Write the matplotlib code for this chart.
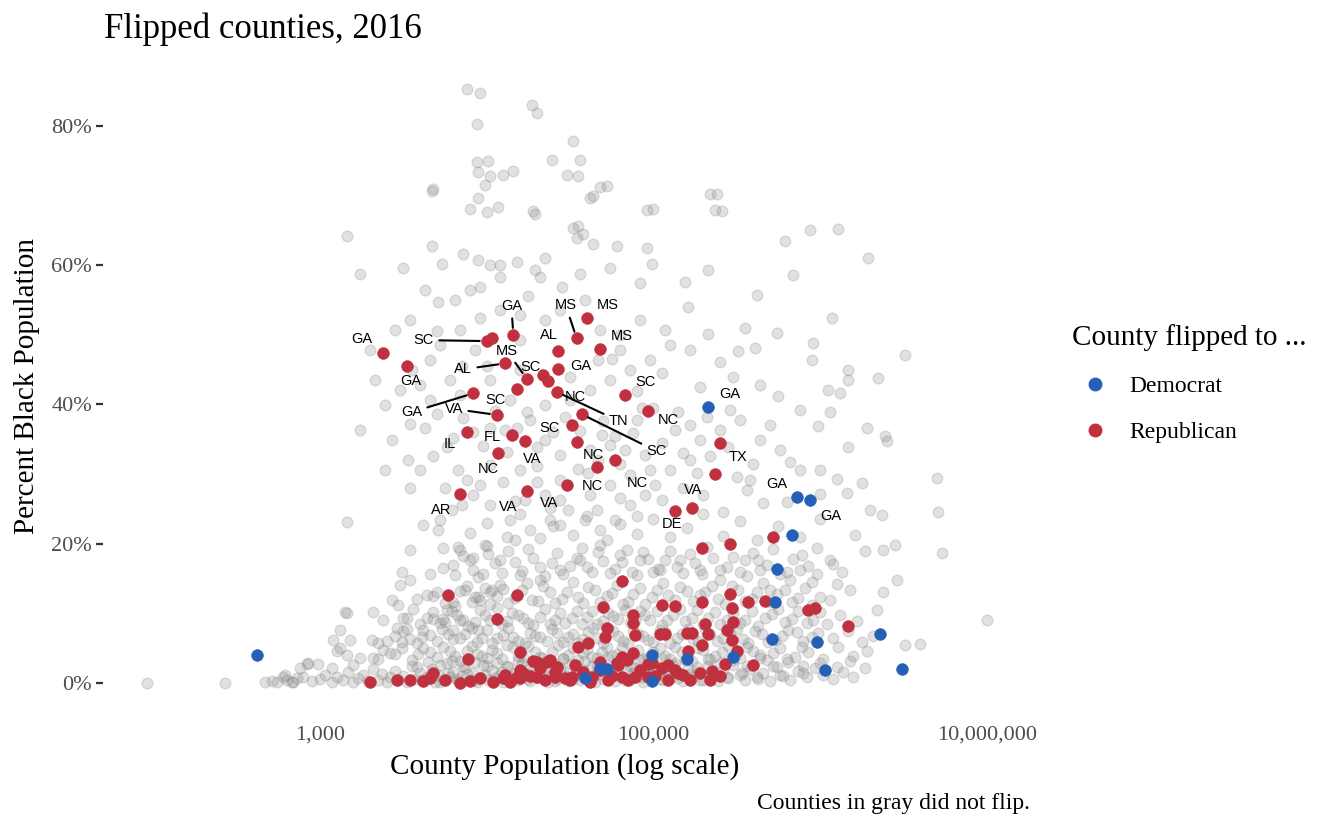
import matplotlib
matplotlib.use("Agg")
import matplotlib.pyplot as plt
from matplotlib.lines import Line2D
import numpy as np

# county points: (log10 population, percent black)
gray_counties = [
    # high share counties
    (3.88, 85.3), (3.96, 84.7), (4.27, 83.0), (4.30, 81.9), (3.94, 80.3), (4.52, 77.8),
    (4.39, 75.1), (4.56, 75.1), (3.94, 74.8), (4.01, 75.0), (3.95, 73.4), (4.02, 72.8),
    (4.10, 73.0), (4.16, 73.5), (3.99, 71.5), (4.48, 72.9), (4.55, 72.8), (4.72, 71.4),
    (4.64, 69.9), (3.68, 70.9), (3.95, 69.7), (3.90, 68.0), (4.00, 67.6), (4.07, 68.3),
    (4.28, 67.8), (5.00, 68.1), (5.34, 70.2), (5.37, 67.9), (5.94, 65.0), (4.55, 65.7),
    (4.58, 64.5), (6.11, 65.2), (5.79, 63.5), (5.38, 70.2), (5.41, 67.8), (4.96, 67.9),
    (4.68, 71.2), (4.62, 69.6), (3.67, 70.6), (4.29, 67.3),
    (3.16, 64.2), (3.24, 58.7), (3.50, 59.6), (3.67, 62.7), (3.73, 60.2), (3.86, 61.6),
    (3.95, 60.7), (4.02, 60.0), (4.08, 60.0), (4.18, 60.5), (4.35, 61.0), (4.29, 59.3),
    (4.32, 58.3), (3.96, 56.9), (4.08, 58.3), (4.52, 65.3), (4.54, 63.9), (4.64, 63.0),
    (4.78, 62.8), (4.96, 62.5), (4.99, 60.2), (4.74, 59.6), (4.56, 58.7), (4.45, 56.9),
    (4.25, 55.6), (3.90, 56.4), (3.71, 54.7), (4.92, 57.4), (5.19, 57.6), (5.33, 59.3),
    (5.62, 55.7), (5.84, 58.6), (6.29, 61.0), (3.63, 56.4), (3.81, 55.0),
    # 40-55 %
    (3.54, 52.1), (3.72, 48.5), (3.84, 50.7), (3.96, 52.4), (4.08, 53.6), (4.20, 52.8),
    (4.35, 52.1), (4.44, 53.6), (4.59, 55.0), (4.68, 50.7), (4.80, 50.0), (4.92, 52.1),
    (5.07, 50.7), (5.22, 47.8), (5.10, 48.5), (4.98, 46.4), (5.21, 54.0), (5.33, 50.1),
    (5.55, 51.0), (5.51, 47.7), (5.61, 48.1), (5.74, 50.3), (5.96, 48.8), (6.07, 52.4),
    (5.40, 46.1), (5.64, 42.8), (5.75, 41.2), (5.88, 39.2), (6.05, 42.1), (6.12, 41.6),
    (6.17, 43.5), (6.17, 44.9), (5.95, 46.4), (6.51, 47.1), (6.35, 43.8), (5.99, 36.9),
    (6.06, 38.9), (6.28, 36.6), (6.40, 34.7), (6.39, 35.5), (6.17, 33.9), (3.66, 46.4),
    (3.78, 43.5), (3.60, 42.8), (3.48, 42.1), (3.33, 43.5), (3.39, 39.9), (3.66, 40.6),
    (3.84, 41.4), (4.26, 37.8), (4.35, 39.9), (4.50, 40.6), (4.62, 42.1), (4.74, 43.5),
    (4.86, 44.9), (4.80, 47.8), (4.67, 46.4), (4.20, 49.3), (3.93, 47.8), (4.02, 43.5),
    (4.14, 40.6), (3.45, 50.7), (3.30, 47.8),
    (4.20, 45.0), (4.50, 44.0), (4.00, 45.5), (4.75, 46.5), (4.90, 42.0), (5.05, 44.5),
    (5.28, 42.5), (5.48, 44.0), (3.55, 45.0), (3.70, 50.5), (3.85, 45.5),
    # 25-40 %
    (3.24, 36.3), (3.43, 34.9), (3.54, 37.2), (3.63, 36.6), (3.76, 33.9), (3.92, 36.0),
    (4.02, 36.6), (4.11, 36.3), (4.18, 36.6), (3.53, 32.0), (3.68, 32.6), (3.83, 30.6),
    (3.88, 29.2), (3.96, 28.4), (3.92, 27.0), (4.02, 25.6), (3.39, 30.6), (3.54, 28.0),
    (3.60, 30.6), (4.02, 31.3), (4.20, 30.6), (4.30, 31.2), (4.44, 29.2), (4.35, 34.9),
    (4.44, 32.7), (4.62, 33.5), (4.74, 34.2), (4.83, 33.5), (4.95, 32.7), (4.67, 32.0),
    (4.69, 35.6), (4.77, 35.5), (4.90, 37.8), (5.00, 39.5), (5.13, 36.3), (5.22, 37.0),
    (5.28, 34.9), (5.32, 38.2), (5.40, 36.3), (5.46, 39.2), (5.52, 37.8), (5.64, 34.9),
    (5.76, 33.5), (5.82, 31.7), (5.88, 30.6), (6.00, 30.6), (5.10, 30.6), (5.22, 32.0),
    (4.98, 30.6), (4.86, 29.9), (4.74, 28.4), (5.01, 28.4), (5.50, 29.6), (5.58, 29.2),
    (5.56, 27.7), (6.10, 29.3), (6.25, 28.7), (6.16, 27.3), (6.30, 24.8), (6.37, 24.1),
    (6.70, 29.4), (6.71, 24.6), (3.79, 24.8), (3.72, 23.4), (4.23, 26.3), (4.35, 27.0),
    (4.44, 26.3), (4.62, 27.0), (4.95, 27.0), (4.49, 24.8), (4.68, 22.0),
    (3.70, 38.6), (3.80, 35.2), (3.86, 38.0), (3.98, 34.0), (4.05, 39.0), (4.12, 33.2),
    (4.24, 38.9), (4.30, 33.9), (4.40, 36.0), (4.47, 38.2), (4.56, 36.2), (4.61, 30.2),
    (4.70, 37.6), (4.80, 31.5), (4.88, 35.9), (4.93, 39.5), (5.05, 34.4), (5.15, 38.9),
    (5.18, 33.0), (5.26, 30.1), (5.34, 32.6), (5.45, 33.9), (5.60, 31.5), (5.70, 37.0),
    (3.75, 28.0), (3.85, 25.5), (4.10, 28.8), (4.17, 26.1), (4.30, 28.9), (4.38, 25.2),
    (4.55, 30.8), (4.80, 26.5), (4.90, 24.0), (5.05, 26.3), (5.18, 28.0), (5.30, 27.0),
    (5.42, 24.6), (5.66, 25.8), (5.80, 26.0), (6.00, 27.1), (4.66, 24.9),
    # 10-25 %
    (3.16, 23.1), (3.71, 22.0), (3.83, 19.5), (3.74, 19.4), (3.66, 15.7), (3.54, 14.8),
    (3.48, 14.1), (3.43, 11.9), (3.32, 10.2), (3.15, 10.2), (3.49, 15.9), (3.54, 19.1),
    (3.62, 22.7), (3.99, 19.8), (3.90, 17.7), (3.81, 15.5), (4.08, 17.7), (4.17, 20.5),
    (4.26, 22.0), (4.38, 23.4), (4.59, 23.4), (4.77, 23.4), (4.86, 25.6), (4.14, 23.4),
    (4.44, 22.7), (4.68, 19.8), (4.80, 18.4), (4.92, 17.7), (5.04, 16.2), (5.16, 17.7),
    (5.28, 16.2), (5.40, 14.8), (5.55, 17.7), (5.64, 16.2), (5.70, 13.4), (5.82, 14.8),
    (5.88, 16.2), (5.95, 14.5), (5.98, 19.4), (6.06, 17.7), (6.13, 15.9), (6.18, 13.4),
    (6.06, 11.9), (6.21, 21.3), (6.27, 19.0), (6.38, 19.1), (6.45, 19.8), (6.73, 18.7),
    (6.46, 14.8), (6.38, 13.1), (6.34, 10.5), (6.32, 6.7), (6.28, 4.6), (6.51, 5.5),
    (6.60, 5.6), (7.00, 9.0), (3.84, 9.0), (3.76, 10.5), (3.68, 12.5), (3.95, 7.6),
    (4.03, 13.4), (3.87, 13.4), (3.96, 11.9), (4.08, 14.1), (4.20, 15.5), (4.32, 14.8),
    (4.44, 16.2), (4.56, 17.7),
    (3.90, 21.5), (4.00, 23.0), (4.12, 21.0), (4.20, 24.2), (4.32, 20.8), (4.40, 22.5),
    (4.52, 21.2), (4.60, 24.0), (4.72, 20.6), (4.80, 22.9), (4.90, 21.4), (5.00, 23.6),
    (5.10, 20.9), (5.20, 22.2), (5.30, 24.3), (5.42, 21.1), (5.52, 23.2), (5.62, 20.5),
    (5.75, 22.6), (5.88, 21.0), (6.00, 23.5),
    (3.74, 16.5), (3.86, 18.3), (3.98, 15.6), (4.05, 17.2), (4.13, 19.0), (4.21, 16.1),
    (4.28, 17.9), (4.35, 15.4), (4.42, 18.6), (4.50, 16.8), (4.57, 19.4), (4.63, 15.9),
    (4.70, 17.5), (4.77, 16.3), (4.84, 19.1), (4.90, 15.5), (4.97, 17.8), (5.03, 16.4),
    (5.10, 18.9), (5.18, 15.8), (5.25, 17.3), (5.32, 19.5), (5.40, 16.2), (5.48, 18.1),
    (5.56, 15.3), (5.63, 17.6), (5.72, 19.2), (5.80, 16.0), (5.89, 18.4), (5.98, 15.7),
    (6.08, 17.1),
    (3.80, 17.0), (3.92, 16.2), (4.01, 18.5), (4.09, 15.8), (4.17, 17.4), (4.25, 19.2),
    (4.32, 16.6), (4.39, 17.2), (4.46, 15.6), (4.54, 18.0), (4.60, 16.6), (4.67, 18.8),
    (4.74, 15.8), (4.81, 17.4), (4.87, 16.0), (4.94, 18.8), (5.00, 15.9), (5.07, 17.6),
    (5.14, 16.6), (5.22, 18.5), (5.29, 15.7), (5.36, 17.9), (5.44, 16.6), (5.52, 15.9),
    (5.60, 18.7), (5.68, 16.9), (5.76, 15.6), (5.84, 17.8), (5.93, 16.8),
    # 3-15 %
    (3.58, 12.0), (3.70, 13.1), (3.80, 11.6), (3.88, 14.0), (3.95, 12.4), (4.02, 11.3),
    (4.10, 13.5), (4.17, 12.2), (4.24, 14.3), (4.31, 11.8), (4.38, 13.0), (4.45, 12.1),
    (4.52, 14.5), (4.58, 11.5), (4.65, 13.3), (4.72, 12.5), (4.78, 14.1), (4.85, 11.7),
    (4.92, 13.6), (4.99, 12.3), (5.06, 14.4), (5.13, 11.9), (5.20, 13.2), (5.28, 12.6),
    (5.35, 14.0), (5.43, 11.4), (5.51, 13.4), (5.59, 12.0), (5.66, 14.3), (5.74, 12.8),
    (5.83, 11.6), (5.91, 13.7), (6.00, 12.4), (6.10, 14.2),
    (3.64, 12.6), (3.75, 11.5), (3.84, 13.2), (3.91, 11.7), (3.99, 13.6), (4.06, 12.5),
    (4.13, 11.5), (4.21, 13.4), (4.27, 11.9), (4.34, 13.9), (4.41, 11.5), (4.48, 13.1),
    (4.55, 12.3), (4.61, 13.8), (4.68, 11.6), (4.75, 12.9), (4.82, 11.4), (4.88, 12.8),
    (4.95, 11.3), (5.02, 13.4), (5.09, 12.6), (5.16, 13.8), (5.24, 11.8), (5.31, 13.1),
    (5.39, 12.1), (5.47, 13.9), (5.55, 11.8), (5.62, 13.1), (5.70, 11.7), (5.79, 13.3),
    (5.87, 12.2), (5.95, 11.2),
    (3.52, 9.3), (3.60, 8.4), (3.68, 10.2), (3.75, 8.8), (3.82, 9.7), (3.89, 8.2),
    (3.96, 10.5), (4.02, 9.0), (4.09, 8.5), (4.15, 10.1), (4.22, 9.4), (4.28, 8.3),
    (4.35, 10.6), (4.41, 9.1), (4.47, 8.6), (4.54, 10.3), (4.60, 9.5), (4.66, 8.4),
    (4.73, 10.0), (4.79, 9.2), (4.86, 8.7), (4.92, 10.4), (4.98, 9.0), (5.05, 8.3),
    (5.12, 9.8), (5.19, 8.9), (5.26, 10.5), (5.33, 9.3), (5.40, 8.5), (5.48, 10.1),
    (5.55, 9.0), (5.63, 8.2), (5.71, 9.9), (5.79, 8.7), (5.87, 10.3), (5.96, 9.1),
    (6.04, 8.4), (6.12, 9.8), (6.22, 8.9),
    (3.56, 10.6), (3.64, 9.4), (3.72, 8.6), (3.79, 10.3), (3.86, 9.1), (3.93, 8.7),
    (3.99, 9.8), (4.06, 10.8), (4.12, 8.9), (4.19, 9.7), (4.25, 8.6), (4.32, 9.5),
    (4.38, 8.4), (4.44, 10.0), (4.51, 9.3), (4.57, 8.5), (4.63, 10.4), (4.70, 8.9),
    (4.76, 9.6), (4.83, 10.5), (4.89, 8.9), (4.95, 9.7), (5.02, 10.3), (5.08, 9.0),
    (5.16, 10.6), (5.23, 9.3), (5.30, 8.4), (5.37, 10.2), (5.44, 9.1), (5.52, 8.6),
    (5.59, 10.3), (5.67, 9.4), (5.75, 10.6), (5.83, 9.2), (5.92, 8.6), (6.00, 10.2),
    (3.40, 6.1), (3.50, 7.4), (3.58, 5.8), (3.66, 6.9), (3.73, 7.8), (3.80, 6.3),
    (3.87, 7.1), (3.94, 5.9), (4.00, 7.6), (4.06, 6.5), (4.13, 7.9), (4.19, 6.0),
    (4.26, 7.2), (4.32, 6.6), (4.39, 7.7), (4.46, 5.9), (4.52, 7.0), (4.58, 6.3),
    (4.64, 7.9), (4.70, 5.7), (4.76, 7.4), (4.82, 6.1), (4.88, 7.5), (4.94, 6.8),
    (5.00, 5.9), (5.07, 7.3), (5.14, 6.4), (5.21, 7.8), (5.27, 6.0), (5.34, 7.1),
    (5.42, 6.5), (5.50, 7.7), (5.57, 5.8), (5.65, 7.0), (5.73, 6.2), (5.81, 7.6),
    (5.90, 6.0), (5.99, 7.2), (6.08, 6.4), (6.17, 7.5), (6.25, 5.9),
    (3.45, 6.8), (3.54, 6.3), (3.62, 7.6), (3.70, 6.0), (3.77, 7.0), (3.84, 6.5),
    (3.91, 7.9), (3.97, 6.4), (4.03, 5.7), (4.10, 6.9), (4.16, 6.6), (4.23, 5.8),
    (4.29, 6.8), (4.36, 6.1), (4.42, 7.2), (4.49, 6.6), (4.55, 5.8), (4.61, 7.3),
    (4.67, 6.5), (4.73, 7.8), (4.79, 6.7), (4.85, 5.8), (4.91, 7.0), (4.97, 6.2),
    (5.04, 7.6), (5.10, 5.8), (5.17, 7.0), (5.24, 6.3), (5.31, 7.8), (5.38, 6.1),
    (5.46, 7.2), (5.54, 6.3), (5.61, 7.4), (5.69, 5.9), (5.77, 6.8), (5.86, 7.3),
    (5.95, 6.6),
    (3.35, 3.5), (3.45, 4.2), (3.55, 3.3), (3.62, 5.0), (3.70, 3.8), (3.78, 4.6),
    (3.84, 3.2), (3.91, 5.3), (3.97, 3.9), (4.03, 4.8), (4.09, 3.4), (4.16, 5.1),
    (4.22, 3.7), (4.29, 4.4), (4.36, 3.1), (4.43, 5.4), (4.49, 4.0), (4.55, 3.3),
    (4.60, 4.9), (4.66, 3.6), (4.72, 5.2), (4.78, 4.1), (4.85, 3.4), (4.91, 4.7),
    (4.97, 3.8), (5.04, 5.0), (5.10, 3.5), (5.17, 4.5), (5.23, 3.2), (5.30, 4.8),
    (5.37, 3.9), (5.45, 5.3), (5.52, 3.6), (5.60, 4.6), (5.68, 3.3), (5.76, 5.0),
    (5.85, 3.8), (5.93, 4.4), (6.02, 3.5), (6.11, 5.2), (6.20, 3.9),
    (3.38, 4.8), (3.49, 5.0), (3.59, 4.1), (3.66, 4.4), (3.74, 5.1), (3.81, 3.9),
    (3.88, 4.6), (3.94, 4.2), (4.00, 3.6), (4.06, 4.3), (4.12, 5.4), (4.19, 3.9),
    (4.25, 5.3), (4.32, 3.8), (4.39, 4.5), (4.46, 3.6), (4.52, 5.0), (4.58, 4.3),
    (4.63, 3.8), (4.69, 4.4), (4.75, 3.9), (4.81, 5.1), (4.88, 4.2), (4.94, 3.5),
    (5.00, 4.4), (5.07, 3.9), (5.13, 5.2), (5.20, 3.8), (5.27, 5.0), (5.34, 3.5),
    (5.41, 4.4), (5.49, 3.9), (5.56, 5.1), (5.64, 4.0), (5.72, 4.3), (5.80, 3.5),
    (5.89, 5.1),
    (3.58, 2.3), (3.65, 3.0), (3.72, 2.6), (3.79, 3.1), (3.86, 2.5), (3.93, 3.0),
    (4.00, 2.4), (4.06, 2.9), (4.13, 2.3), (4.19, 3.1), (4.26, 2.4), (4.33, 3.6),
    (4.40, 2.8), (4.46, 3.5), (4.53, 2.2), (4.59, 3.2), (4.66, 2.5), (4.72, 3.6),
    (4.79, 3.1), (4.86, 2.4), (4.92, 3.3), (4.99, 2.5), (5.06, 3.4), (5.12, 2.6),
    (5.19, 3.3), (5.26, 2.3), (5.33, 3.4), (5.40, 2.8), (5.48, 3.3), (5.56, 2.5),
    (5.64, 3.6), (5.72, 2.5), (5.81, 3.0), (5.90, 2.4), (6.00, 2.9), (6.10, 2.3),
    (6.18, 3.1),
    # small counties, left side
    (1.96, 0.0), (2.43, 0.0), (2.67, 0.1), (2.71, 0.3), (2.78, 0.9), (2.83, 0.2),
    (2.88, 2.2), (2.92, 2.7), (2.99, 2.7), (3.10, 4.6), (3.08, 6.2), (3.12, 7.6),
    (3.18, 6.2), (3.31, 6.2), (3.24, 3.6), (3.38, 9.0), (3.47, 11.2), (2.79, 1.1),
    (2.86, 0.7), (3.12, 5.0), (3.16, 4.0), (2.93, 2.8), (3.07, 2.2), (3.20, 2.6),
    (3.16, 10.1), (3.35, 5.7), (3.32, 3.6), (3.42, 4.3), (3.50, 9.3), (3.46, 7.9),
    (3.52, 7.8), (3.49, 5.9), (3.61, 6.6), (3.68, 9.2), (3.74, 9.2), (3.80, 7.6),
    (3.81, 11.1), (3.84, 19.1), (3.92, 17.9), (4.00, 19.7), (3.95, 15.2), (4.02, 13.1),
    (3.93, 12.3),
    # near-zero band
    (2.74, 0.2), (2.80, 0.5), (2.84, 0.1), (2.90, 0.8), (2.95, 0.3), (3.00, 0.6),
    (3.03, 1.2), (3.07, 0.2), (3.10, 0.9), (3.14, 0.4), (3.17, 1.6), (3.20, 0.1),
    (3.23, 0.7), (3.26, 1.1), (3.29, 0.3), (3.32, 2.0), (3.35, 0.5), (3.37, 1.3),
    (3.40, 0.2), (3.42, 0.8), (3.45, 1.7), (3.47, 0.4), (3.50, 1.0), (3.52, 0.1),
    (3.55, 2.4), (3.57, 0.6), (3.60, 1.4), (3.62, 0.3), (3.64, 0.9), (3.67, 2.0),
    (3.69, 0.2), (3.71, 1.2), (3.74, 0.5), (3.76, 2.8), (3.78, 0.8), (3.80, 1.6),
    (3.83, 0.3), (3.85, 1.0), (3.87, 2.2), (3.90, 0.5), (3.92, 1.4), (3.94, 0.1),
    (3.96, 0.9), (3.98, 2.6), (4.01, 0.4), (4.03, 1.8), (4.05, 0.7), (4.08, 1.2),
    (4.10, 0.2), (4.12, 2.4), (4.14, 0.9), (4.17, 1.5), (4.19, 0.4), (4.21, 2.9),
    (4.23, 1.1), (4.26, 0.3), (4.28, 1.9), (4.30, 0.7), (4.33, 2.5), (4.35, 1.2),
    (4.37, 0.2), (4.40, 1.6), (4.42, 0.6), (4.44, 2.2), (4.47, 1.0), (4.49, 0.3),
    (4.51, 2.7), (4.54, 1.4), (4.56, 0.5), (4.58, 1.9), (4.61, 0.8), (4.63, 2.4),
    (4.65, 0.2), (4.68, 1.3), (4.70, 0.6), (4.72, 2.0), (4.75, 1.1), (4.77, 0.3),
    (4.79, 2.6), (4.82, 0.9), (4.84, 1.6), (4.86, 0.4), (4.89, 2.2), (4.91, 1.0),
    (4.94, 0.2), (4.96, 1.7), (4.98, 0.7), (5.01, 2.5), (5.03, 1.2), (5.06, 0.4),
    (5.08, 1.9), (5.11, 0.8), (5.13, 2.8), (5.16, 1.3), (5.18, 0.3), (5.21, 2.1),
    (5.24, 0.9), (5.27, 1.6), (5.30, 0.5), (5.33, 2.4), (5.36, 1.1), (5.39, 0.3),
    (5.42, 1.8), (5.45, 0.7), (5.48, 2.6), (5.52, 1.2), (5.55, 0.4), (5.58, 2.0),
    (5.62, 0.9), (5.66, 1.5), (5.70, 0.3), (5.74, 2.3), (5.78, 1.0), (5.82, 0.5),
    (5.87, 1.7), (5.92, 0.8), (5.97, 2.2), (6.02, 1.1), (6.08, 0.6), (6.14, 1.6),
    (6.20, 0.9), (6.27, 2.1),
    (3.61, 0.5), (3.66, 1.0), (3.72, 0.2), (3.77, 1.5), (3.82, 0.6), (3.88, 1.3),
    (3.93, 0.4), (3.99, 1.1), (4.04, 0.3), (4.09, 1.6), (4.15, 0.5), (4.20, 1.2),
    (4.25, 0.6), (4.31, 1.4), (4.36, 0.8), (4.41, 0.3), (4.46, 1.7), (4.52, 0.6),
    (4.57, 1.2), (4.62, 0.4), (4.67, 1.8), (4.73, 0.7), (4.78, 1.3), (4.83, 0.5),
    (4.88, 1.5), (4.93, 0.8), (4.99, 1.2), (5.04, 0.6), (5.10, 1.5), (5.15, 0.7),
    (5.22, 1.3), (5.28, 0.4), (5.35, 1.6), (5.44, 0.9), (5.53, 1.4), (5.63, 0.6),
    (5.76, 1.2), (5.90, 1.4),
]

# flipped to Republican, with state label
red_labeled = [
    (3.38, 47.4, "GA"), (3.52, 45.5, "GA"), (4.00, 49.1, "SC"), (4.16, 50.0, "GA"),
    (4.54, 49.5, "MS"), (4.60, 52.4, "MS"), (4.68, 48.0, "MS"), (4.43, 47.7, "AL"),
    (4.11, 45.9, "AL"), (4.24, 43.7, "MS"), (4.43, 45.1, "GA"), (4.34, 44.2, "SC"),
    (4.37, 43.4, "NC"), (4.18, 42.2, "SC"), (3.92, 41.6, "GA"), (4.06, 38.5, "VA"),
    (4.42, 41.8, "TN"), (4.57, 38.6, "SC"), (4.83, 41.4, "SC"), (4.97, 39.1, "NC"),
    (4.51, 37.0, "SC"), (3.88, 36.0, "IL"), (4.15, 35.6, "FL"), (4.23, 34.8, "VA"),
    (4.54, 34.6, "NC"), (4.07, 33.0, "NC"), (4.77, 32.0, "NC"), (4.66, 31.0, "NC"),
    (4.48, 28.4, "VA"), (4.24, 27.6, "VA"), (3.84, 27.1, "AR"), (5.40, 34.5, "TX"),
    (5.23, 25.1, "VA"), (5.13, 24.7, "DE"),
]
# offsets of the labels from their points (pixels), and which get a leader line
red_label_offsets = [
    (-22, 14), (4, -15), (-63, 1), (-2, 29), (-11, 33), (21, 13), (22, 13), (-9, 16),
    (-42, -6), (-20, 28), (22, 3), (-13, 8), (27, -16), (-21, -11), (-62, -19), (-43, 6),
    (62, -29), (75, -37), (20, 13), (20, -9), (-22, -3), (-17, -12), (-19, -2), (7, -18),
    (17, -13), (-10, -16), (22, -23), (-4, -19), (-18, -18), (-19, -16), (-19, -16), (18, -14),
    (1, 18), (-3, -13),
]
red_leader = {2, 3, 4, 8, 9, 14, 15, 16, 17}

# flipped to Republican, unlabeled
red_other = [
    (4.03, 49.5), (5.37, 30.0), (5.72, 21.0), (5.46, 20.0), (5.29, 19.4), (4.81, 14.6),
    (4.18, 12.6), (3.77, 12.6), (4.06, 9.2), (3.89, 3.4), (4.20, 4.5), (4.70, 10.9),
    (5.05, 11.2), (5.13, 11.1), (5.29, 11.6), (5.46, 12.8), (5.47, 10.8), (5.57, 11.6),
    (5.67, 11.8), (5.93, 10.5), (5.97, 10.8), (4.88, 9.8), (4.88, 8.6), (5.31, 8.5),
    (5.48, 8.8), (4.72, 7.9), (4.71, 6.6), (4.89, 6.9), (5.04, 7.0), (5.07, 7.0),
    (5.20, 7.2), (5.23, 7.2), (5.33, 7.0), (5.44, 7.6), (5.47, 6.2), (5.29, 5.5),
    (5.50, 4.6), (6.17, 8.2), (4.55, 5.2), (4.61, 5.7), (4.81, 3.7), (4.88, 4.3),
    (5.21, 4.6), (5.60, 2.6), (5.35, 1.7), (4.30, 3.0), (4.38, 3.3), (4.42, 2.3),
    (3.30, 0.2), (3.46, 0.4), (3.54, 0.4), (3.62, 0.3), (3.66, 0.7), (3.68, 1.4),
    (3.75, 0.4), (3.84, 0.0), (3.90, 0.3), (3.96, 0.7), (4.04, 0.2), (4.12, 0.6),
    (4.18, 0.9), (4.22, 1.4), (4.50, 0.4), (4.11, 1.1), (4.14, 0.2), (4.20, 1.9),
    (4.26, 1.0), (4.32, 2.2), (4.35, 0.4), (4.41, 1.6), (4.47, 0.7), (4.53, 2.6),
    (4.58, 1.6), (4.62, 0.1), (4.68, 1.9), (4.75, 1.0), (4.79, 2.6), (4.85, 0.4),
    (4.92, 1.9), (4.97, 2.7), (5.01, 1.0), (5.05, 2.2), (5.09, 0.4), (5.13, 1.9),
    (5.18, 1.1), (5.22, 0.4), (5.28, 1.4), (5.34, 0.4), (5.40, 1.0), (5.43, 2.7),
    (4.68, 3.0), (4.78, 2.9), (4.84, 3.3), (4.99, 2.9), (5.09, 2.6), (5.15, 1.5),
    (4.97, 0.9), (4.89, 0.9), (4.81, 0.9), (4.73, 0.4), (4.63, 0.9), (4.51, 0.9),
    (4.41, 0.9), (4.30, 0.9), (4.20, 0.7), (4.10, 0.7), (4.28, 3.2), (4.36, 3.0),
]

# flipped to Democrat
blue_labeled = [(5.33, 39.6, "GA"), (5.86, 26.7, "GA"), (5.94, 26.3, "GA")]
blue_label_offsets = [(21, 13), (-20, 13), (21, -16)]
blue_other = [
    (2.62, 4.0), (5.83, 21.3), (5.74, 16.4), (5.73, 11.6), (6.36, 7.0), (5.71, 6.3),
    (5.98, 5.9), (6.03, 1.9), (6.49, 2.0), (5.48, 3.7), (4.99, 4.0), (5.20, 3.4),
    (4.99, 0.3), (4.59, 0.7), (4.68, 2.2), (4.72, 2.0),
]

RED = "#C0303E"
BLUE = "#2660B6"
GRAY = "#808080"
SERIF = ["Liberation Serif", "DejaVu Serif"]
SANS = ["Liberation Sans", "DejaVu Sans"]

plt.rcParams["font.family"] = SERIF

fig = plt.figure(figsize=(13.44, 8.30), dpi=100)
ax = fig.add_axes([103 / 1344, 117 / 830, 925 / 1344, 656 / 830])


def unzip(points):
    lp = np.array([p[0] for p in points])
    pct = np.array([p[1] for p in points])
    return 10 ** lp, pct


gx, gy = unzip(gray_counties)
ax.scatter(gx, gy, s=60, color=GRAY, alpha=0.23, linewidths=1.0, edgecolors=GRAY, zorder=1)

rx, ry = unzip(red_other + [(p[0], p[1]) for p in red_labeled])
ax.scatter(rx, ry, s=72, color=RED, linewidths=0.4, edgecolors=RED, zorder=3)
bx, by = unzip(blue_other + [(p[0], p[1]) for p in blue_labeled])
ax.scatter(bx, by, s=72, color=BLUE, linewidths=0.4, edgecolors=BLUE, zorder=4)


def add_labels(points, offsets, leaders):
    for i, ((lp, pct, state), (dx, dy)) in enumerate(zip(points, offsets)):
        props = None
        if i in leaders:
            props = dict(arrowstyle="-", color="black", lw=1.5, shrinkA=2, shrinkB=5)
        ax.annotate(state, xy=(10 ** lp, pct), xytext=(dx, dy), textcoords="offset pixels",
                    ha="center", va="center", fontsize=10.5, family=SANS,
                    arrowprops=props, zorder=5)


add_labels(red_labeled, red_label_offsets, red_leader)
add_labels(blue_labeled, blue_label_offsets, set())

ax.set_xscale("log")
ax.set_xlim(10 ** 1.698, 10 ** 7.248)
ax.set_ylim(-4.31, 89.9)
ax.set_xticks([1e3, 1e5, 1e7])
ax.set_xticklabels(["1,000", "100,000", "10,000,000"])
ax.xaxis.set_minor_locator(matplotlib.ticker.NullLocator())
ax.set_yticks([0, 20, 40, 60, 80])
ax.set_yticklabels(["0%", "20%", "40%", "60%", "80%"])
ax.tick_params(axis="x", length=0, pad=9, labelsize=16, labelcolor="#4D4D4D")
ax.tick_params(axis="y", length=5, width=1.6, color="#333333", pad=3,
               labelsize=16, labelcolor="#4D4D4D")
for s in ax.spines.values():
    s.set_visible(False)

fig.text(104 / 1344, 1 - 38 / 830, "Flipped counties, 2016", fontsize=25, va="baseline")
fig.text(27 / 1344, 1 - 386 / 830, "Percent Black Population", fontsize=21,
         rotation=90, ha="center", va="center")
fig.text(565 / 1344, 1 - 767 / 830, "County Population (log scale)", fontsize=21,
         ha="center", va="center")
fig.text(1030 / 1344, 1 - 803 / 830, "Counties in gray did not flip.", fontsize=17,
         ha="right", va="center")

handles = [Line2D([], [], marker="o", ls="", color=BLUE, markersize=9),
           Line2D([], [], marker="o", ls="", color=RED, markersize=9)]
leg = fig.legend(handles, ["Democrat", "Republican"], title="County flipped to ...",
                 loc="upper left", bbox_to_anchor=(1060 / 1344, 1 - 312 / 830),
                 frameon=False, fontsize=17, title_fontsize=21, labelspacing=1.05,
                 handletextpad=0.45, borderpad=0)
leg._legend_box.align = "left"

fig.savefig("out.png", dpi=100)
